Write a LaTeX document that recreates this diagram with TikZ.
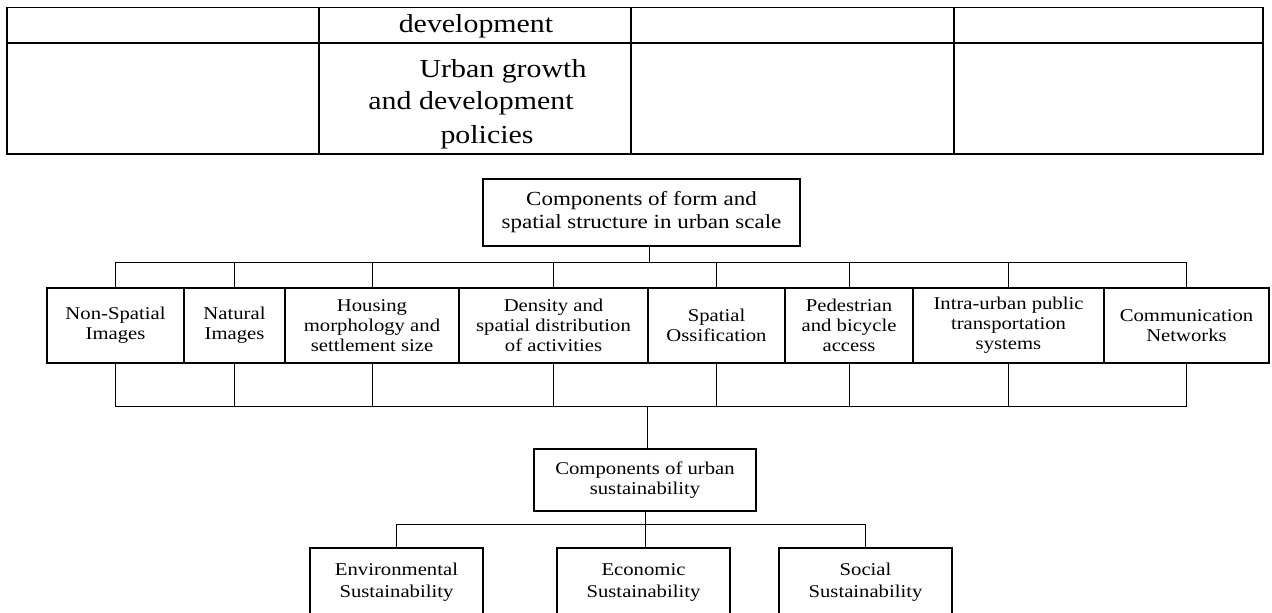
\documentclass[tikz,border=0pt]{standalone}
\usepackage{fontspec}
\setmainfont{Liberation Serif}[FakeStretch=1.15]

\begin{document}
\begin{tikzpicture}[x=0.5pt, y=-0.5pt,
    box/.style={draw, line width=1pt, align=center, inner sep=0pt,
      font=\fontsize{9}{10}\selectfont, minimum height=37.5pt},
    bigbox/.style={box, font=\fontsize{10}{11.5}\selectfont},
    leafbox/.style={box, font=\fontsize{9}{11}\selectfont,
      minimum width=86.5pt, minimum height=34pt},
    link/.style={line width=0.5pt},
    rule/.style={line width=0.8pt},
    celltext/.style={anchor=base, inner sep=0pt, font=\fontsize{13}{16}\selectfont}]
  \useasboundingbox (0,0) rectangle (1272,612);
  % --- table rows at the top ---
  \draw[rule] (7,7.5) rectangle (1263,154);
  \draw[rule] (7,43) -- (1263,43);
  \draw[rule] (319,7.5) -- (319,154);
  \draw[rule] (631,7.5) -- (631,154);
  \draw[rule] (954,7.5) -- (954,154);
  \node[celltext] (dev) at (476,32) {development};
  \node[celltext] (pol1) at (503,77) {Urban growth};
  \node[celltext] (pol2) at (471,109) {and development};
  \node[celltext] (pol3) at (487,143) {policies};
  % --- components of form and spatial structure ---
  \node[bigbox, minimum width=158.5pt, minimum height=33.5pt] (form) at (641.5,212.5)
    {Components of form and\\spatial structure in urban scale};
  \node[box, minimum width=68.5pt] (nsi) at (115.5,325.5) {Non-Spatial\\Images};
  \node[box, minimum width=50.5pt] (nat) at (234.5,325.5) {Natural\\Images};
  \node[box, minimum width=87pt]   (hou) at (372,325.5) {Housing\\morphology and\\settlement size};
  \node[box, minimum width=94.5pt] (den) at (553.5,325.5) {Density and\\spatial distribution\\of activities};
  \node[box, minimum width=68.5pt] (oss) at (716.5,325.5) {Spatial\\Ossification};
  \node[box, minimum width=64pt]   (ped) at (849,325.5) {Pedestrian\\and bicycle\\access};
  \node[box, minimum width=95.5pt] (pub) at (1008.5,325.5) {Intra-urban public\\transportation\\systems};
  \node[box, minimum width=82.5pt] (com) at (1186.5,325.5) {Communication\\Networks};
  \coordinate (upbus) at (649,262);
  \coordinate (lowbus) at (647,406);
  % upper bus
  \draw[link] (nsi.north) |- (com.north |- upbus) -- (com.north);
  \draw[link] (form.south -| upbus) -- (upbus);
  \draw[link] (nat.north) -- (nat.north |- upbus);
  \draw[link] (hou.north) -- (hou.north |- upbus);
  \draw[link] (den.north) -- (den.north |- upbus);
  \draw[link] (oss.north) -- (oss.north |- upbus);
  \draw[link] (ped.north) -- (ped.north |- upbus);
  \draw[link] (pub.north) -- (pub.north |- upbus);
  % lower bus
  \draw[link] (nsi.south) |- (com.south |- lowbus) -- (com.south);
  \draw[link] (nat.south) -- (nat.south |- lowbus);
  \draw[link] (hou.south) -- (hou.south |- lowbus);
  \draw[link] (den.south) -- (den.south |- lowbus);
  \draw[link] (oss.south) -- (oss.south |- lowbus);
  \draw[link] (ped.south) -- (ped.south |- lowbus);
  \draw[link] (pub.south) -- (pub.south |- lowbus);
  % --- components of urban sustainability ---
  \node[box, minimum width=111pt, minimum height=31pt] (sus) at (645,480)
    {Components of urban\\sustainability};
  \draw[link] (lowbus) -- (lowbus |- sus.north);
  \node[leafbox] (env) at (396.5,582) {Environmental\\Sustainability};
  \node[leafbox] (eco) at (643.5,582) {Economic\\Sustainability};
  \node[leafbox] (soc) at (865.5,582) {Social\\Sustainability};
  \coordinate (susbus) at (645,524);
  \draw[link] (env.north) |- (soc.north |- susbus) -- (soc.north);
  \draw[link] (sus.south) -- (sus.south |- eco.north);
\end{tikzpicture}
\end{document}
